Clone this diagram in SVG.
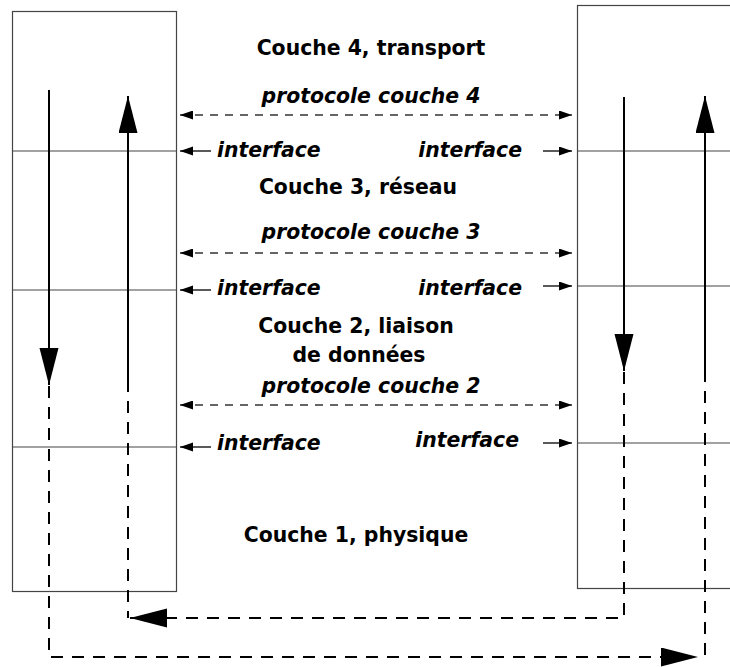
<svg xmlns="http://www.w3.org/2000/svg" width="730" height="667" viewBox="0 0 730 667">
<style>
.box{fill:none;stroke:#444;stroke-width:1.2}
.div{stroke:#444;stroke-width:1.2}
.lbl{font-family:"DejaVu Sans",sans-serif;font-weight:bold;font-size:20.4px;fill:#000}
.it{font-style:italic}
.mid{text-anchor:middle}
.end{text-anchor:end}
.flow{fill:none;stroke:#000;stroke-width:2}
.flowd{fill:none;stroke:#000;stroke-width:2;stroke-dasharray:12 9}
.proto{fill:none;stroke:#333;stroke-width:1.3;stroke-dasharray:8 7}
.intf{fill:none;stroke:#000;stroke-width:1.3}
</style>
<defs>
<marker id="big" markerUnits="userSpaceOnUse" markerWidth="38" markerHeight="20" refX="37" refY="9.5" orient="auto">
<path d="M0,0 L37,9.5 L0,19 z" fill="#000"/>
</marker>
<marker id="sm" markerUnits="userSpaceOnUse" markerWidth="14" markerHeight="10" refX="13" refY="4.5" orient="auto">
<path d="M0,0 L13,4.5 L0,9 z" fill="#000"/>
</marker>
<marker id="sms" markerUnits="userSpaceOnUse" markerWidth="14" markerHeight="10" refX="0" refY="4.5" orient="auto">
<path d="M13,0 L0,4.5 L13,9 z" fill="#000"/>
</marker>
</defs>

<g id="left-stack">
<rect class="box" x="12.5" y="11.5" width="164" height="580"/>
<line class="div" x1="12.5" y1="151" x2="176.5" y2="151"/>
<line class="div" x1="12.5" y1="290" x2="176.5" y2="290"/>
<line class="div" x1="12.5" y1="447" x2="176.5" y2="447"/>
</g>

<g id="right-stack">
<rect class="box" x="577.5" y="5.5" width="200" height="583"/>
<line class="div" x1="577.5" y1="151" x2="730" y2="151"/>
<line class="div" x1="577.5" y1="286" x2="730" y2="286"/>
<line class="div" x1="577.5" y1="443" x2="730" y2="443"/>
</g>

<g id="layer4">
<text class="lbl mid" x="371" y="55">Couche 4, transport</text>
<text class="lbl it mid" x="371" y="103">protocole couche 4</text>
<text class="lbl it" x="217" y="157">interface</text>
<text class="lbl it end" x="522" y="157">interface</text>
</g>

<g id="layer3">
<text class="lbl mid" x="358" y="194">Couche 3, réseau</text>
<text class="lbl it mid" x="371" y="239">protocole couche 3</text>
<text class="lbl it" x="217" y="295">interface</text>
<text class="lbl it end" x="522" y="295">interface</text>
</g>

<g id="layer2">
<text class="lbl mid" x="356" y="333">Couche 2, liaison</text>
<text class="lbl mid" x="359" y="362">de données</text>
<text class="lbl it mid" x="371" y="393">protocole couche 2</text>
<text class="lbl it" x="217" y="450">interface</text>
<text class="lbl it end" x="519" y="447">interface</text>
</g>

<g id="layer1">
<text class="lbl mid" x="356" y="542">Couche 1, physique</text>
</g>

<g id="connectors">
<!-- protocol arrows -->
<line class="proto" x1="180" y1="115" x2="572" y2="115" marker-start="url(#sms)" marker-end="url(#sm)"/>
<line class="proto" x1="180" y1="253" x2="572" y2="253" marker-start="url(#sms)" marker-end="url(#sm)"/>
<line class="proto" x1="180" y1="405" x2="572" y2="405" marker-start="url(#sms)" marker-end="url(#sm)"/>
<!-- interface arrows -->
<line class="intf" x1="211" y1="151" x2="180" y2="151" marker-end="url(#sm)"/>
<line class="intf" x1="543" y1="151" x2="572" y2="151" marker-end="url(#sm)"/>
<line class="intf" x1="211" y1="290" x2="180" y2="290" marker-end="url(#sm)"/>
<line class="intf" x1="543" y1="286" x2="572" y2="286" marker-end="url(#sm)"/>
<line class="intf" x1="211" y1="447" x2="180" y2="447" marker-end="url(#sm)"/>
<line class="intf" x1="543" y1="443" x2="572" y2="443" marker-end="url(#sm)"/>
<!-- data flow -->
<path class="flow" d="M49,90 V385" marker-end="url(#big)"/>
<path class="flowd" d="M49,386 V657 H698" marker-end="url(#big)"/>
<path class="flow" d="M128,380 V96" marker-end="url(#big)"/>
<path class="flowd" d="M128,380 V618"/>
<path class="flow" d="M624,97 V371" marker-end="url(#big)"/>
<path class="flowd" d="M624,372 V618 H130" marker-end="url(#big)"/>
<path class="flowd" d="M705,655 V380"/>
<path class="flow" d="M705,380 V96" marker-end="url(#big)"/>
</g>
</svg>
